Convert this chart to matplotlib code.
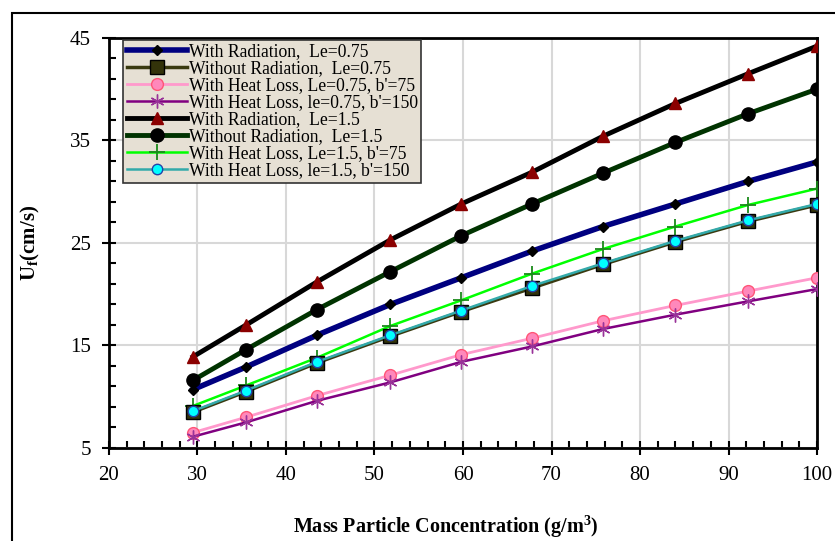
import numpy as np
import matplotlib.pyplot as plt
from matplotlib.ticker import MultipleLocator
from matplotlib.patches import Rectangle

plt.rcParams['font.family'] = ['Liberation Serif', 'DejaVu Serif']
plt.rcParams['mathtext.fontset'] = 'custom'
plt.rcParams['mathtext.rm'] = 'Liberation Serif'
plt.rcParams['mathtext.bf'] = 'Liberation Serif:bold'

# mass particle concentration (g/m^3)
conc = [29.5, 35.5, 43.5, 51.8, 59.8, 67.8, 75.8, 84.0, 92.2, 100.0]

rad_075 = [10.7, 12.9, 16.0, 19.0, 21.6, 24.2, 26.6, 28.8, 31.0, 32.9]
norad_075 = [8.5, 10.5, 13.3, 15.9, 18.3, 20.6, 22.9, 25.1, 27.1, 28.7]
hl75_075 = [6.5, 8.0, 10.1, 12.1, 14.1, 15.7, 17.4, 18.9, 20.3, 21.6]
hl150_075 = [6.1, 7.5, 9.6, 11.4, 13.4, 14.9, 16.6, 18.0, 19.3, 20.5]
rad_15 = [13.9, 17.0, 21.2, 25.3, 28.8, 31.9, 35.4, 38.6, 41.5, 44.2]
norad_15 = [11.6, 14.6, 18.5, 22.2, 25.7, 28.8, 31.8, 34.8, 37.6, 40.0]
hl75_15 = [9.1, 11.1, 13.8, 16.9, 19.4, 22.0, 24.4, 26.6, 28.7, 30.3]
hl150_15 = [8.6, 10.6, 13.4, 16.0, 18.4, 20.8, 23.0, 25.2, 27.2, 28.8]

fig = plt.figure(figsize=(8.35, 5.41), dpi=100)
ax = fig.add_axes([0.1305, 0.172, 0.848, 0.758])

# outer frame of the original picture (cropped)
fig.patches.append(Rectangle((12/835, -0.1), 1.2, 1 - 13/541 + 0.1, transform=fig.transFigure,
                             fill=False, edgecolor='black', lw=1.5))

ax.plot(conc, rad_075, color='#000080', lw=4, marker='D', ms=5.5, mfc='black', mec='black',
        label='With Radiation,  Le=0.75', zorder=5)
ax.plot(conc, norad_075, color='#3a3a10', lw=2.5, marker='s', ms=10, mfc='#33330a', mec='black',
        label='Without Radiation,  Le=0.75', zorder=4)
ax.plot(conc, hl75_075, color='#ff99cc', lw=2, marker='o', ms=8.5, mfc='#ff88bb', mec='#ff5577',
        label="With Heat Loss, Le=0.75, b'=75", zorder=3)
ax.plot(conc, hl150_075, color='#800080', lw=1.8, marker=(6, 2, 0), ms=10, mec='#993399',
        label="With Heat Loss, le=0.75, b'=150", zorder=4)
ax.plot(conc, rad_15, color='black', lw=3.5, marker='^', ms=9, mfc='#8b0000', mec='#8b0000',
        label='With Radiation,  Le=1.5', zorder=5)
ax.plot(conc, norad_15, color='#003300', lw=3.5, marker='o', ms=9.5, mfc='black', mec='black',
        label='Without Radiation,  Le=1.5', zorder=5)
ax.plot(conc, hl75_15, color='#00ff00', lw=1.8, marker='+', ms=11, mew=1.3, mec='#1a8a1a',
        label="With Heat Loss, Le=1.5, b'=75", zorder=3)
ax.plot(conc, hl150_15, color='#33aaaa', lw=1.8, marker='o', ms=7.5, mfc='#00ffff', mec='#2244aa',
        label="With Heat Loss, le=1.5, b'=150", zorder=6)

ax.set_xlim(20, 100)
ax.set_ylim(5, 45)
ax.xaxis.set_major_locator(MultipleLocator(10))
ax.xaxis.set_minor_locator(MultipleLocator(2))
ax.yaxis.set_major_locator(MultipleLocator(10, offset=5))
ax.yaxis.set_minor_locator(MultipleLocator(2, offset=1))
ax.tick_params(which='major', direction='inout', length=10, width=1.5, labelsize=15, pad=8)
ax.tick_params(which='minor', direction='in', length=5, width=1.5)
ax.grid(True, which='major', color='#d8d8d8', lw=1.5)
ax.set_axisbelow(True)
for s in ax.spines.values():
    s.set_linewidth(2)

ax.set_xlabel('Mass Particle Concentration (g/m$^\\mathbf{3}$)', fontsize=14.5, fontweight='bold')
ax.set_ylabel('U$_\\mathbf{f}$(cm/s)', fontsize=15, fontweight='bold')
ax.xaxis.set_label_coords(0.475, -0.16)
ax.yaxis.set_label_coords(-0.095, 0.5)

leg = ax.legend(loc='upper left', bbox_to_anchor=(0.018, 1.0), fontsize=12.7, handlelength=3.4,
                handletextpad=0.1, labelspacing=0.0, borderpad=0.2, borderaxespad=0.1,
                fancybox=False, framealpha=1, edgecolor='#333333')
leg.get_frame().set_facecolor('#e6e0d4')
leg.get_frame().set_linewidth(1.2)

fig.savefig('out.png', dpi=100)
